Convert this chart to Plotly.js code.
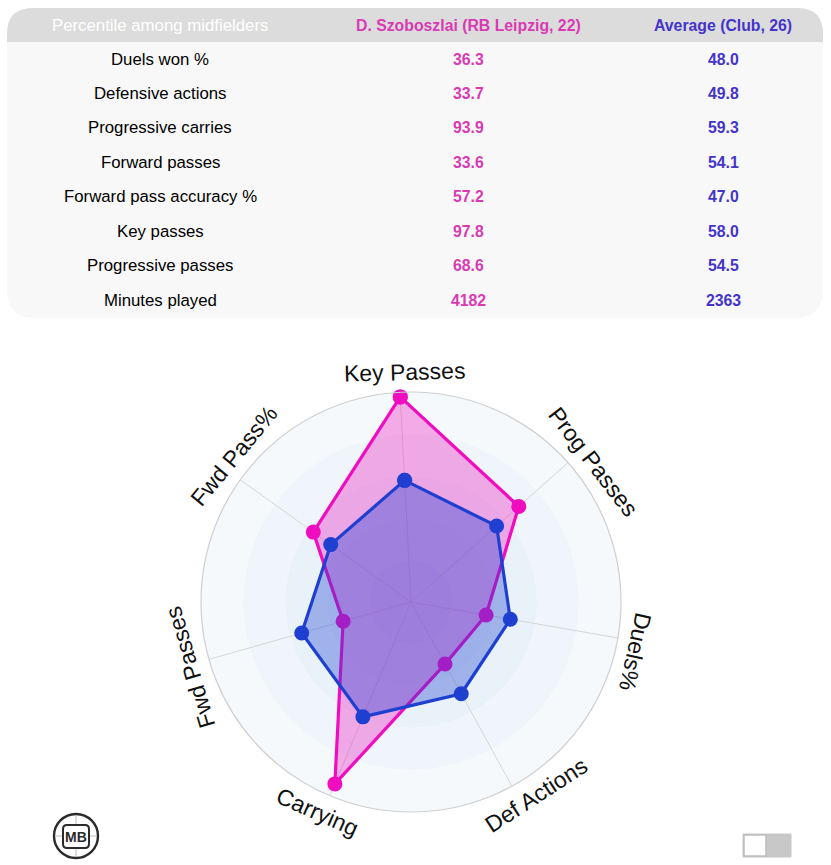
<!DOCTYPE html>
<html><head><meta charset="utf-8">
<script src="https://cdn.plot.ly/plotly-3.0.1.min.js"></script>
<style>body{margin:0;background:#fff}#c{width:831px;height:865px}</style>
</head><body><div id="c"></div>
<script>
// ---- table data ----
const headerLabels = ['Percentile among midfielders', 'D. Szoboszlai (RB Leipzig, 22)', 'Average (Club, 26)'];
const rowLabels = ['Duels won %', 'Defensive actions', 'Progressive carries', 'Forward passes', 'Forward pass accuracy %', 'Key passes', 'Progressive passes', 'Minutes played'];
const playerVals = ['36.3', '33.7', '93.9', '33.6', '57.2', '97.8', '68.6', '4182'];
const avgVals = ['48.0', '49.8', '59.3', '54.1', '47.0', '58.0', '54.5', '2363'];

// ---- radar data ----
const radarCats = ['Key Passes', 'Prog Passes', 'Duels%', 'Def Actions', 'Carrying', 'Fwd Passes', 'Fwd Pass%'];
const playerRadar = [97.8, 68.6, 36.3, 33.7, 93.9, 33.6, 57.2];
const avgRadar = [58.0, 54.5, 48.0, 49.8, 59.3, 54.1, 47.0];
const ringLevels = [0, 20, 40, 60, 80];
// angular placement of the outer category labels (degrees, counter-clockwise from east)
const labelAngles = [91.5, 37.5, -12.5, -57, -114, -163.5, 140.5];

const W = 831, H = 865;
const px = x => x / W, py = y => 1 - y / H;
const FONT = 'Liberation Sans, Arial, sans-serif';
const PINK = '#f00cbf', BLUE = '#1f3fd1';
const PINK_TXT = '#d93ab4', BLUE_TXT = '#4434c9';

function rr(x0, y0, x1, y1, rt, rb) {
  return `M ${px(x0)},${py(y0 + rt)} Q ${px(x0)},${py(y0)} ${px(x0 + rt)},${py(y0)} L ${px(x1 - rt)},${py(y0)} Q ${px(x1)},${py(y0)} ${px(x1)},${py(y0 + rt)} L ${px(x1)},${py(y1 - rb)} Q ${px(x1)},${py(y1)} ${px(x1 - rb)},${py(y1)} L ${px(x0 + rb)},${py(y1)} Q ${px(x0)},${py(y1)} ${px(x0)},${py(y1 - rb)} Z`;
}

const shapes = [];
const annotations = [];
// table background
shapes.push({type: 'path', xref: 'paper', yref: 'paper', path: rr(7, 8, 823, 318, 26, 28), fillcolor: '#f8f8f8', line: {width: 0}, layer: 'below'});
shapes.push({type: 'path', xref: 'paper', yref: 'paper', path: rr(7, 8, 823, 42, 26, 0), fillcolor: '#dcdcdc', line: {width: 0}, layer: 'below'});

const colX = [160, 468, 723];
function txt(x, y, t, color, bold) {
  annotations.push({xref: 'paper', yref: 'paper', x: px(x), y: py(y), text: bold ? '<b>' + t + '</b>' : t,
    showarrow: false, xanchor: 'center', yanchor: 'middle', font: {family: FONT, size: bold ? 15.8 : 16.8, color: color}});
}
txt(colX[0], 25, headerLabels[0], '#ffffff', false);
txt(colX[1], 25, headerLabels[1], PINK_TXT, true);
txt(colX[2], 25, headerLabels[2], BLUE_TXT, true);
const rowStep = (300 - 59) / 7;
rowLabels.forEach((lab, i) => {
  const y = 59 + i * rowStep;
  txt(colX[0], y, lab, '#000000', false);
  txt(colX[1], y, playerVals[i], PINK_TXT, true);
  txt(colX[2], y, avgVals[i], BLUE_TXT, true);
});

// radar geometry
const CX = 411, CY = 602, R = 210, ROT = 93;
const dom = {x: [px(CX - R), px(CX + R)], y: [py(CY + R), py(CY - R)]};
radarCats.forEach((c, i) => {
  const th = labelAngles[i];
  const rad = th * Math.PI / 180;
  const LR = 230;
  let a = 90 - th;
  a = ((a + 180) % 360 + 360) % 360 - 180;
  if (a > 120) a -= 180;
  if (a < -120) a += 180;
  annotations.push({xref: 'paper', yref: 'paper', x: px(CX + LR * Math.cos(rad)), y: py(CY - LR * Math.sin(rad)),
    text: c, showarrow: false, xanchor: 'center', yanchor: 'middle', textangle: a,
    font: {family: FONT, size: 23, color: '#111111'}});
});

// logo bottom-left
shapes.push({type: 'circle', xref: 'paper', yref: 'paper', x0: px(54), x1: px(98), y0: py(858), y1: py(814), line: {color: '#2b2b2b', width: 2.4}, fillcolor: 'rgba(0,0,0,0)'});
shapes.push({type: 'line', xref: 'paper', yref: 'paper', x0: px(56), x1: px(97), y0: py(836), y1: py(836), line: {color: '#aaa', width: 0.8}});
shapes.push({type: 'line', xref: 'paper', yref: 'paper', x0: px(76), x1: px(76), y0: py(815), y1: py(857), line: {color: '#aaa', width: 0.8}});
shapes.push({type: 'path', xref: 'paper', yref: 'paper', path: rr(63, 825, 89, 848, 4, 4), fillcolor: '#ffffff', line: {color: '#2b2b2b', width: 2}});
annotations.push({xref: 'paper', yref: 'paper', x: px(76), y: py(837), text: '<b>MB</b>', showarrow: false, xanchor: 'center', yanchor: 'middle', font: {family: FONT, size: 14, color: '#2b2b2b'}});

// toggle bottom-right
shapes.push({type: 'rect', xref: 'paper', yref: 'paper', x0: px(743), x1: px(791), y0: py(857), y1: py(834), fillcolor: '#c8c8c8', line: {color: '#c8c8c8', width: 1}});
shapes.push({type: 'rect', xref: 'paper', yref: 'paper', x0: px(744), x1: px(766), y0: py(856), y1: py(835), fillcolor: '#ffffff', line: {color: '#bdbdbd', width: 1.5}});

const ringColors = ['#dfecf7', '#e4eff8', '#e9f2f9', '#eff5fa', '#f5f9fc'];
const traces = [
  {type: 'barpolar', subplot: 'polar', theta: ringLevels.map(() => 0), r: ringLevels.map(() => 20), base: ringLevels,
    width: ringLevels.map(() => 360), marker: {color: ringColors, line: {width: 0}}, hoverinfo: 'skip', showlegend: false},
  {type: 'scatterpolar', subplot: 'polar2', theta: radarCats.concat([radarCats[0]]), r: playerRadar.concat([playerRadar[0]]),
    mode: 'lines+markers', fill: 'toself', fillcolor: 'rgba(240,12,191,0.33)', line: {color: PINK, width: 3.2},
    marker: {color: PINK, size: 15}, hoverinfo: 'skip', showlegend: false},
  {type: 'scatterpolar', subplot: 'polar2', theta: radarCats.concat([radarCats[0]]), r: avgRadar.concat([avgRadar[0]]),
    mode: 'lines+markers', fill: 'toself', fillcolor: 'rgba(31,63,209,0.36)', line: {color: BLUE, width: 3.2},
    marker: {color: BLUE, size: 15}, hoverinfo: 'skip', showlegend: false}
];

const layout = {
  width: W, height: H, margin: {l: 0, r: 0, t: 0, b: 0}, paper_bgcolor: '#ffffff', showlegend: false,
  polar: {domain: dom, bgcolor: '#ffffff',
    radialaxis: {visible: false, range: [0, 100]},
    angularaxis: {visible: false}},
  polar2: {domain: dom, bgcolor: 'rgba(0,0,0,0)',
    radialaxis: {visible: true, range: [0, 100], showgrid: false, showline: false, showticklabels: false, ticks: ''},
    angularaxis: {type: 'category', direction: 'clockwise', rotation: ROT, showticklabels: false, ticks: '',
      showline: true, linecolor: '#cfcfcf', linewidth: 1.2, showgrid: true, gridcolor: '#d6d6d6', gridwidth: 1}},
  shapes: shapes, annotations: annotations
};
Plotly.newPlot('c', traces, layout, {displayModeBar: false, staticPlot: true});
</script></body></html>
